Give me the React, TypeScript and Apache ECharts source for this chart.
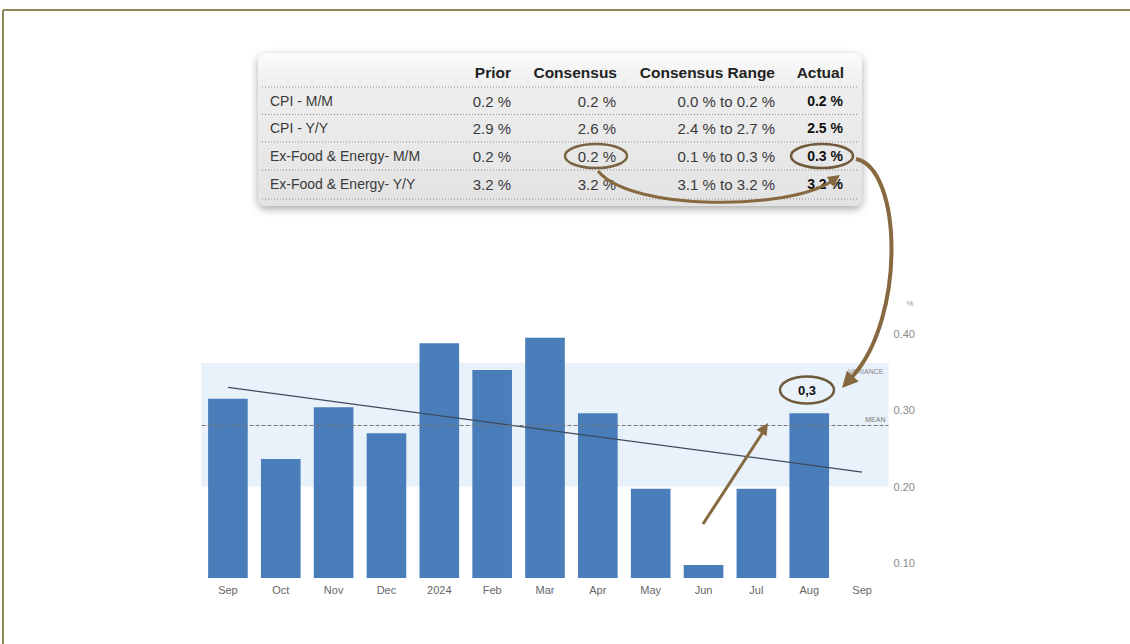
import React, { useEffect, useRef } from "react";
import * as echarts from "echarts";

// ---- Data ----
const categories = ["Sep", "Oct", "Nov", "Dec", "2024", "Feb", "Mar", "Apr", "May", "Jun", "Jul", "Aug", "Sep"];
const coreMoM = [0.315, 0.236, 0.304, 0.27, 0.388, 0.353, 0.395, 0.296, 0.197, 0.097, 0.197, 0.296, null];
const trendLine = [0.33, null, null, null, null, null, null, null, null, null, null, null, 0.219];
const meanValue = 0.28;
const varianceBand = [0.2, 0.362];
const yMin = 0.08;
const yMax = 0.42;
const yStep = 0.02;
const actualLabel = "0,3";

const tableHeaders = ["Prior", "Consensus", "Consensus Range", "Actual"];
const tableLabels = ["CPI - M/M", "CPI - Y/Y", "Ex-Food & Energy- M/M", "Ex-Food & Energy- Y/Y"];
const tablePrior = ["0.2 %", "2.9 %", "0.2 %", "3.2 %"];
const tableConsensus = ["0.2 %", "2.6 %", "0.2 %", "3.2 %"];
const tableRange = ["0.0 % to 0.2 %", "2.4 % to 2.7 %", "0.1 % to 0.3 %", "3.1 % to 3.2 %"];
const tableActual = ["0.2 %", "2.5 %", "0.3 %", "3.2 %"];

// ---- Layout / style ----
const FONT = "'Liberation Sans', Arial, sans-serif";
const BROWN = "#86693f";
const TEXT = "#3a3a3a";

function arrowHead(tipX: number, tipY: number, fromX: number, fromY: number, len: number, half: number, color: string) {
  const dx = tipX - fromX;
  const dy = tipY - fromY;
  const d = Math.sqrt(dx * dx + dy * dy) || 1;
  const ux = dx / d;
  const uy = dy / d;
  const bx = tipX - ux * len;
  const by = tipY - uy * len;
  return {
    type: "polygon",
    z: 20,
    shape: {
      points: [
        [tipX, tipY],
        [bx - uy * half, by + ux * half],
        [bx + uy * half, by - ux * half],
      ],
    },
    style: { fill: color },
  };
}

function buildTable() {
  const els: any[] = [];
  els.push({
    type: "rect",
    z: 5,
    shape: { x: 258, y: 53, width: 604, height: 153, r: 8 },
    style: {
      fill: new echarts.graphic.LinearGradient(0, 0, 0, 1, [
        { offset: 0, color: "#fbfbfb" },
        { offset: 0.22, color: "#eeeeee" },
        { offset: 1, color: "#e3e3e3" },
      ]),
      shadowBlur: 8,
      shadowColor: "rgba(0,0,0,0.35)",
      shadowOffsetY: 3,
    },
  });
  const sepY = [87, 114.5, 142, 170, 199];
  sepY.forEach((y) =>
    els.push({
      type: "line",
      z: 6,
      shape: { x1: 262, y1: y, x2: 858, y2: y },
      style: { stroke: "#8f8f8f", lineWidth: 1, lineDash: [1, 2] },
    })
  );
  const headerRight = [511, 617, 775, 844];
  tableHeaders.forEach((h, i) =>
    els.push({
      type: "text",
      z: 7,
      x: headerRight[i],
      y: 72,
      style: { text: h, fill: "#222", font: `bold 15.5px ${FONT}`, align: "right", verticalAlign: "middle" },
    })
  );
  const rowY = [101, 128, 156, 184];
  const cols = [tablePrior, tableConsensus, tableRange, tableActual];
  const colRight = [511, 616, 775, 843];
  tableLabels.forEach((lab, r) => {
    els.push({
      type: "text",
      z: 7,
      x: 270,
      y: rowY[r],
      style: { text: lab, fill: TEXT, font: `14px ${FONT}`, align: "left", verticalAlign: "middle" },
    });
    cols.forEach((col, c) =>
      els.push({
        type: "text",
        z: 7,
        x: colRight[c],
        y: rowY[r],
        style: {
          text: col[r],
          fill: c === 3 ? "#111" : TEXT,
          font: `${c === 3 ? "bold 14px" : "15px"} ${FONT}`,
          align: "right",
          verticalAlign: "middle",
        },
      })
    );
  });
  return els;
}

function buildAnnotations() {
  const els: any[] = [];
  // frame (top and left edges)
  els.push({
    type: "line",
    z: 1,
    shape: { x1: 3, y1: 10, x2: 1130, y2: 10 },
    style: { stroke: "#8c8858", lineWidth: 2 },
  });
  els.push({
    type: "line",
    z: 1,
    shape: { x1: 3, y1: 10, x2: 3, y2: 644 },
    style: { stroke: "#8c8858", lineWidth: 2 },
  });
  // ellipses in table
  els.push({
    type: "ellipse",
    z: 20,
    shape: { cx: 596, cy: 156, rx: 31, ry: 12 },
    style: { fill: "none", stroke: "#7b6444", lineWidth: 2.5 },
  });
  els.push({
    type: "ellipse",
    z: 20,
    shape: { cx: 822, cy: 156, rx: 31, ry: 12 },
    style: { fill: "none", stroke: "#6f5a3c", lineWidth: 2.5 },
  });
  // curve from consensus to actual (row below)
  els.push({
    type: "bezierCurve",
    z: 20,
    shape: { x1: 598, y1: 171, cpx1: 632, cpy1: 212, cpx2: 790, cpy2: 210, x2: 832, y2: 181 },
    style: { fill: "none", stroke: BROWN, lineWidth: 3 },
  });
  els.push(arrowHead(840, 175, 790, 210, 12, 6, BROWN));
  // big curved arrow from actual to chart label
  els.push({
    type: "bezierCurve",
    z: 20,
    shape: { x1: 856, y1: 159, cpx1: 902, cpy1: 168, cpx2: 906, cpy2: 318, x2: 852, y2: 377 },
    style: { fill: "none", stroke: BROWN, lineWidth: 4 },
  });
  els.push(arrowHead(842, 388, 906, 318, 16, 8, BROWN));
  // label ellipse "0,3"
  els.push({
    type: "ellipse",
    z: 20,
    shape: { cx: 807, cy: 390, rx: 27, ry: 13.5 },
    style: { fill: "none", stroke: "#6f5a3c", lineWidth: 2.5 },
  });
  els.push({
    type: "text",
    z: 21,
    x: 807,
    y: 390,
    style: { text: actualLabel, fill: "#111", font: `bold 13px ${FONT}`, align: "center", verticalAlign: "middle" },
  });
  // straight arrow from June up
  els.push({
    type: "line",
    z: 20,
    shape: { x1: 703, y1: 524, x2: 763, y2: 432 },
    style: { stroke: BROWN, lineWidth: 3 },
  });
  els.push(arrowHead(768, 423, 703, 524, 12, 6, BROWN));
  // % unit
  els.push({
    type: "text",
    z: 5,
    x: 910,
    y: 303,
    style: { text: "%", fill: "#999", font: `8px ${FONT}`, align: "center", verticalAlign: "middle" },
  });
  return els;
}

export default function App() {
  const ref = useRef<HTMLDivElement>(null);
  useEffect(() => {
    if (!ref.current) return;
    const chart = echarts.init(ref.current, null, { renderer: "svg" });
    const option: any = {
      animation: false,
      backgroundColor: "#ffffff",
      grid: { left: 201.5, width: 687, top: 318.8, height: 259.2, containLabel: false },
      xAxis: {
        type: "category",
        data: categories,
        axisLine: { show: false },
        axisTick: { show: false },
        axisLabel: { color: "#666", fontSize: 11, fontFamily: FONT, margin: 6 },
        splitLine: { show: false },
      },
      yAxis: {
        type: "value",
        position: "right",
        min: yMin,
        max: yMax,
        interval: yStep,
        axisLine: { show: false },
        axisTick: { show: false },
        splitLine: { show: false },
        axisLabel: {
          color: "#888",
          fontSize: 11,
          fontFamily: FONT,
          margin: 5,
          formatter: (v: number) => {
            const t = v * 10;
            return Math.abs(t - Math.round(t)) < 1e-6 ? v.toFixed(2) : "";
          },
        },
      },
      series: [
        {
          type: "line",
          data: categories.map(() => null),
          z: 1,
          silent: true,
          symbol: "none",
          markArea: {
            silent: true,
            itemStyle: { color: "#e9f2fa" },
            label: {
              show: true,
              position: "insideTopRight",
              formatter: "VARIANCE",
              fontSize: 7,
              color: "#888",
              fontFamily: FONT,
              distance: 5,
            },
            data: [[{ yAxis: varianceBand[1] }, { yAxis: varianceBand[0] }]],
          },
          markLine: {
            silent: true,
            symbol: "none",
            lineStyle: { type: "dashed", color: "#777", width: 1 },
            label: {
              show: true,
              position: "insideEndTop",
              formatter: "MEAN",
              fontSize: 7,
              color: "#777",
              fontFamily: FONT,
              distance: 3,
            },
            data: [{ yAxis: meanValue }],
          },
        },
        {
          type: "bar",
          data: coreMoM,
          barWidth: "75%",
          z: 2,
          itemStyle: { color: "#4a7ebb" },
        },
        {
          type: "line",
          data: trendLine,
          connectNulls: true,
          symbol: "none",
          z: 3,
          lineStyle: { color: "#3c4b5c", width: 1.3 },
        },
      ],
      graphic: { elements: [...buildTable(), ...buildAnnotations()] },
    };
    chart.setOption(option);
    return () => chart.dispose();
  }, []);
  return <div ref={ref} style={{ position: "absolute", left: 0, top: 0, width: 1130, height: 644 }} />;
}
